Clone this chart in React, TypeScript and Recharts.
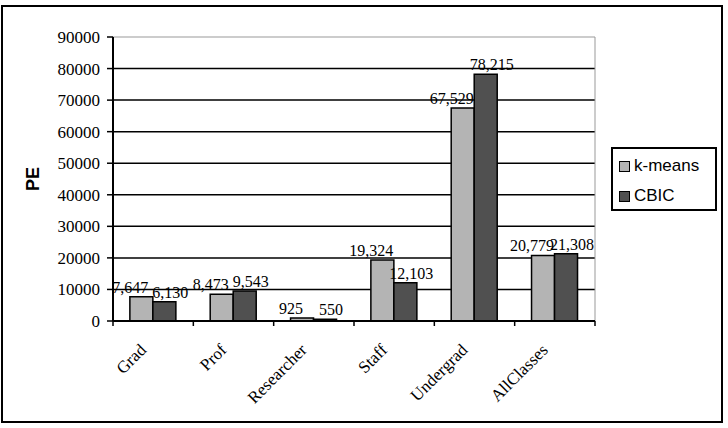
import { BarChart, Bar, XAxis, YAxis, CartesianGrid, ReferenceArea, LabelList } from "recharts";

const categories = ["Grad", "Prof", "Researcher", "Staff", "Undergrad", "AllClasses"];
const kmeans = [7647, 8473, 925, 19324, 67529, 20779];
const cbic = [6130, 9543, 550, 12103, 78215, 21308];
const yTicks = [0, 10000, 20000, 30000, 40000, 50000, 60000, 70000, 80000, 90000];

const series = [
  { key: "kmeans", name: "k-means", color: "#b4b4b4", labelDx: -11 },
  { key: "cbic", name: "CBIC", color: "#505050", labelDx: 6 },
];

const data = categories.map((c, i) => ({ name: c, kmeans: kmeans[i], cbic: cbic[i] }));

const serif = "'Liberation Serif', 'Times New Roman', serif";
const sans = "'Liberation Sans', Arial, sans-serif";

function makeLabel(dx: number) {
  return (props: any) => {
    const { x, y, width, value } = props;
    return (
      <text x={x + width / 2 + dx} y={y - 4} textAnchor="middle" fontFamily={serif} fontSize={16} fill="#000">
        {Number(value).toLocaleString("en-US")}
      </text>
    );
  };
}

function CategoryTick(props: any) {
  const { x, y, payload, index } = props;
  const half = payload.offset || 0;
  return (
    <g>
      <line x1={x - half} y1={y - 5} x2={x - half} y2={y} stroke="#000" strokeWidth={1.5} />
      {index === categories.length - 1 && (
        <line x1={x + half} y1={y - 5} x2={x + half} y2={y} stroke="#000" strokeWidth={1.5} />
      )}
      <text
        x={x - 6}
        y={y + 25}
        textAnchor="end"
        transform={`rotate(-45, ${x - 6}, ${y + 25})`}
        fontFamily={serif}
        fontSize={17}
        fill="#000"
      >
        {payload.value}
      </text>
    </g>
  );
}

function YLabel(props: any) {
  const vb = props.viewBox || { x: 0, y: 0, height: 0 };
  const cx = vb.x + 33;
  const cy = vb.y + vb.height / 2;
  return (
    <text x={cx} y={cy} transform={`rotate(-90, ${cx}, ${cy})`} textAnchor="middle" dominantBaseline="central"
      fontFamily={sans} fontWeight="bold" fontSize={18} fill="#000">
      PE
    </text>
  );
}

export default function App() {
  return (
    <div style={{ position: "absolute", left: 0, top: 0, width: 728, height: 428, background: "#fff" }}>
      <div style={{ position: "absolute", left: 1, top: 5, width: 722, height: 418, border: "2px solid #000", boxSizing: "border-box" }} />
      <BarChart
        width={728}
        height={428}
        data={data}
        margin={{ top: 37, right: 133, bottom: 47, left: 0 }}
        barGap={0}
        barCategoryGap="21%"
        style={{ position: "absolute", left: 0, top: 0 }}
      >
        <CartesianGrid vertical={false} stroke="#000" strokeWidth={1.5} horizontalValues={yTicks.slice(1, -1)} />
        <ReferenceArea y1={0} y2={90000} fill="none" stroke="#999" strokeWidth={1} />
        <XAxis
          dataKey="name"
          height={60}
          interval={0}
          axisLine={{ stroke: "#000", strokeWidth: 2 }}
          tickLine={false}
          tickSize={5}
          tickMargin={0}
          tick={<CategoryTick />}
        />
        <YAxis
          width={113}
          domain={[0, 90000]}
          ticks={yTicks}
          interval={0}
          axisLine={{ stroke: "#000", strokeWidth: 2 }}
          tickLine={{ stroke: "#000", strokeWidth: 1.5 }}
          tickSize={6}
          tickMargin={7}
          tick={{ fontFamily: serif, fontSize: 17, fill: "#000" }}
          label={<YLabel />}
        />
        {series.map((s) => (
          <Bar key={s.key} dataKey={s.key} name={s.name} fill={s.color} stroke="#000" strokeWidth={1.5} isAnimationActive={false}>
            <LabelList dataKey={s.key} content={makeLabel(s.labelDx)} />
          </Bar>
        ))}
      </BarChart>
      <div style={{ position: "absolute", left: 611, top: 147, width: 106, height: 64, border: "2px solid #000", boxSizing: "border-box", background: "#fff", fontFamily: sans, fontSize: 17 }}>
        {series.map((s, i) => (
          <div key={s.key} style={{ position: "absolute", left: 6, top: 7 + i * 30, display: "flex", alignItems: "center", height: 20 }}>
            <span style={{ display: "inline-block", width: 9, height: 9, background: s.color, border: "1px solid #000", marginRight: 4 }} />
            <span>{s.name}</span>
          </div>
        ))}
      </div>
    </div>
  );
}
